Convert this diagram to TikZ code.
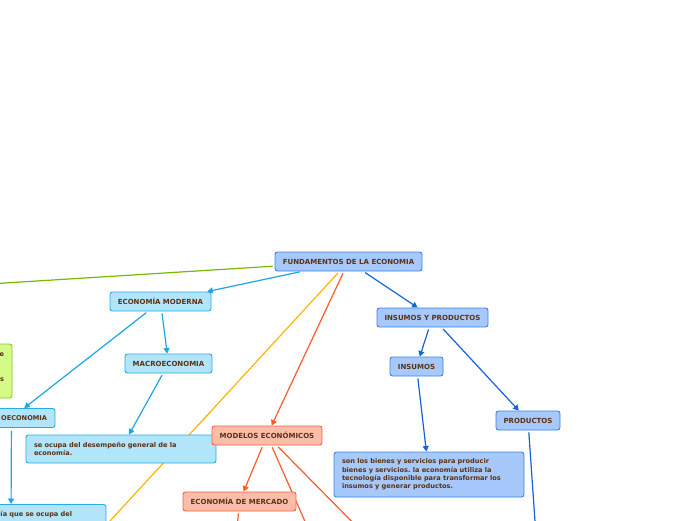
\documentclass[tikz,border=0pt]{standalone}
\usepackage{fontspec}
\setmainfont{DejaVu Sans}
\usetikzlibrary{arrows.meta}
\frenchspacing
\definecolor{txt}{HTML}{5A3214}
\definecolor{fundfill}{HTML}{A6C8FA}
\definecolor{fundline}{HTML}{3C82E6}
\definecolor{cyanfill}{HTML}{B2E4FA}
\definecolor{cyanline}{HTML}{28AAE6}
\definecolor{redfill}{HTML}{FABDAA}
\definecolor{redline}{HTML}{F0643C}
\definecolor{greenfill}{HTML}{D4FA88}
\definecolor{greenline}{HTML}{8CC81E}
\definecolor{lcyan}{HTML}{1AA6E6}
\definecolor{lblue}{HTML}{1462D6}
\definecolor{lred}{HTML}{FF5A28}
\definecolor{lyellow}{HTML}{FFB400}
\definecolor{lgreen}{HTML}{7AB800}
\pgfdeclarelayer{background}
\pgfsetlayers{background,main}
\tikzset{
  base/.style={draw, rounded corners=2.5pt, line width=0.9pt, inner sep=0pt, minimum height=19pt, text=txt, font=\bfseries\fontsize{7}{8.3}\selectfont},
  bluebox/.style={base, fill=fundfill, draw=fundline},
  cyanbox/.style={base, fill=cyanfill, draw=cyanline},
  redbox/.style={base, fill=redfill, draw=redline},
  greenbox/.style={base, fill=greenfill, draw=greenline},
  textbox/.style={font=\bfseries\fontsize{6.6}{8.3}\selectfont\frenchspacing, align=left, inner xsep=8pt, text width=174pt},
  conn/.style={line width=1.2pt, shorten <=2pt},
  arr/.style={conn, -{Triangle[length=5.5pt,width=6pt]}},
}
\begin{document}
\begin{tikzpicture}[x=1pt,y=-1pt]
\useasboundingbox (0,0) rectangle (696,520);
% nodes
\node[bluebox, minimum width=147pt] (fund) at (348.5,261.5) {FUNDAMENTOS DE LA ECONOMIA};
\node[cyanbox, minimum width=101pt] (mod) at (160.5,301.5) {ECONOMÍA MODERNA};
\node[cyanbox, minimum width=87pt] (macro) at (168.5,363.5) {MACROECONOMIA};
\node[cyanbox, minimum width=87pt, font=\bfseries\fontsize{6.6}{8.3}\selectfont] (micro) at (11.5,418) {\makebox[71pt][r]{OECONOMIA}};
\node[cyanbox, textbox, minimum width=190pt, minimum height=28pt] (macrotxt) at (121,449) {se ocupa del desempeño general de la\\economía.};
\node[cyanbox, textbox, minimum width=190pt, anchor=north, inner ysep=4pt, minimum height=0pt, text height=8pt, text depth=12pt] (microtxt) at (11,504) {\hspace*{76.5pt}ía que se ocupa del};
\node[greenbox, textbox, align=right, text width=24pt, minimum width=40pt, minimum height=54pt] (green) at (-8,371) {e\\\mbox{}\\\mbox{}\\s\\\mbox{}};
\node[redbox, minimum width=110pt] (models) at (267,435.5) {MODELOS ECONÓMICOS};
\node[redbox, minimum width=113pt] (mercado) at (239.5,501.5) {ECONOMÍA DE MERCADO};
\node[bluebox, minimum width=111pt] (iyp) at (432.5,317.5) {INSUMOS Y PRODUCTOS};
\node[bluebox, minimum width=53pt] (ins) at (416.5,366.5) {INSUMOS};
\node[bluebox, minimum width=64pt] (prod) at (528,420.5) {PRODUCTOS};
\node[bluebox, textbox, minimum width=190pt, minimum height=45pt] (instxt) at (429,474.5) {son los bienes y servicios para producir\\bienes y servicios. la economía utiliza la\\tecnología disponible para transformar los\\insumos y generar productos.};
% free ends
\coordinate (gEnd) at (-40,285.8);
\coordinate (yEnd) at (99,533);
\coordinate (m1) at (311,535);
\coordinate (m2) at (365,535);
\coordinate (mer) at (236,540);
\coordinate (pEnd) at (537,550);
\begin{pgfonlayer}{background}
\draw[conn, lgreen] (fund) -- (gEnd);
\draw[conn, lyellow] (fund) -- (yEnd);
\draw[arr, lcyan] (fund) -- (mod);
\draw[arr, lred] (fund) -- (models);
\draw[arr, lblue] (fund) -- (iyp);
\draw[arr, lcyan] (mod) -- (micro);
\draw[arr, lcyan] (mod) -- (macro);
\draw[arr, lcyan] (macro) -- (macrotxt);
\draw[arr, lcyan, shorten <=3pt] (micro) -- (microtxt);
\draw[arr, lred] (models) -- (mercado);
\draw[conn, lred] (models) -- (m1);
\draw[conn, lred] (models) -- (m2);
\draw[conn, lred] (mercado) -- (mer);
\draw[arr, lblue] (iyp) -- (ins);
\draw[arr, lblue] (iyp) -- (prod);
\draw[arr, lblue] (ins) -- (instxt);
\draw[conn, lblue] (prod) -- (pEnd);
\end{pgfonlayer}
\end{tikzpicture}
\end{document}
